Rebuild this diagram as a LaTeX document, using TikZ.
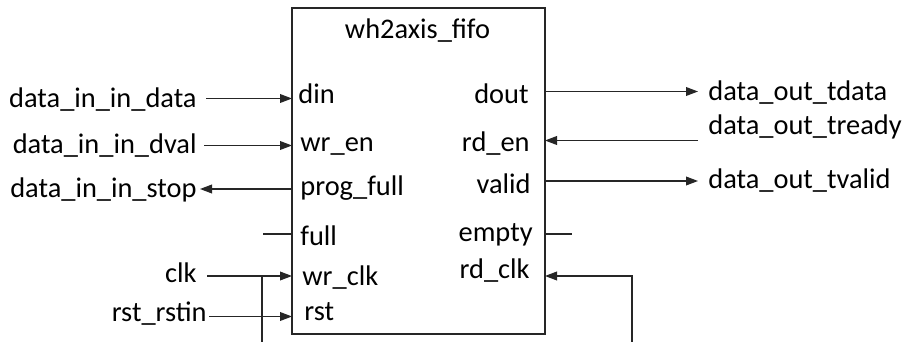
\documentclass[tikz,border=0pt]{standalone}
\usepackage{fontspec}
\setmainfont{Carlito}
\usetikzlibrary{arrows.meta}
\tikzset{
  lbl/.style={inner sep=0pt, font=\fontsize{14.2}{17}\selectfont, text=black},
  wire/.style={line width=0.55pt, draw=black!85},
  arr/.style={wire, -{Triangle[length=6pt,width=4.4pt]}},
  blockbox/.style={draw=black!85, line width=0.6pt, minimum width=126.5pt, minimum height=163pt, inner sep=0pt}
}
\begin{document}
\begin{tikzpicture}[x=0.5pt,y=-0.5pt]
\useasboundingbox (0,0) rectangle (905,342);
% block
\node[blockbox] (box) at (418.5,171) {};
\node[lbl, anchor=base] (title) at (417.5,39) {wh2axis\_fifo};
% inner left port labels
\node[lbl, anchor=base west] (pdin) at (298,104) {din};
\node[lbl, anchor=base west] (pwren) at (300,152) {wr\_en};
\node[lbl, anchor=base west] (pprog) at (300,195) {prog\_full};
\node[lbl, anchor=base west] (pfull) at (300,245) {full};
\node[lbl, anchor=base west] (pwrclk) at (302,285) {wr\_clk};
\node[lbl, anchor=base west] (prst) at (304,320) {rst};
% inner right port labels
\node[lbl, anchor=base east] (pdout) at (529,104) {dout};
\node[lbl, anchor=base east] (prden) at (530,152) {rd\_en};
\node[lbl, anchor=base east] (pvalid) at (531,193) {valid};
\node[lbl, anchor=base east] (pempty) at (533,241) {empty};
\node[lbl, anchor=base east] (prdclk) at (530,278) {rd\_clk};
% outer left labels
\node[lbl, anchor=base east] (sdata) at (197,107.5) {data\_in\_in\_data};
\node[lbl, anchor=base east] (sdval) at (197,154) {data\_in\_in\_dval};
\node[lbl, anchor=base east] (sstop) at (197,198) {data\_in\_in\_stop};
\node[lbl, anchor=base east] (sclk) at (197,282) {clk};
\node[lbl, anchor=base east] (srst) at (207,321) {rst\_rstin};
% outer right labels
\node[lbl, anchor=base west] (otdata) at (708,100.5) {data\_out\_tdata};
\node[lbl, anchor=base west] (otready) at (708,134) {data\_out\_tready};
\node[lbl, anchor=base west] (otvalid) at (708,188) {data\_out\_tvalid};
% pin coordinates on box edges
\coordinate (edin) at (292,98.5);
\coordinate (ewren) at (292,145.5);
\coordinate (eprog) at (292,189);
\coordinate (efull) at (292,234);
\coordinate (ewrclk) at (292,276);
\coordinate (erst) at (292,316.5);
\coordinate (edout) at (545,91.5);
\coordinate (erden) at (545,140.5);
\coordinate (evalid) at (545,181);
\coordinate (eempty) at (545,234);
\coordinate (erdclk) at (545,276);
% free ends
\coordinate (fdata) at (206,98.5);
\coordinate (fdval) at (204,145.5);
\coordinate (fstop) at (200,189);
\coordinate (ffull) at (263,234);
\coordinate (fclk) at (207,276);
\coordinate (frst) at (209,316.5);
\coordinate (clkdn) at (262,276);
\coordinate (clkbot) at (262,342);
\coordinate (ftdata) at (698,91.5);
\coordinate (ftready) at (698,140.5);
\coordinate (ftvalid) at (698,181);
\coordinate (fempty) at (572,234);
\coordinate (rdcorner) at (632,276);
\coordinate (rdbot) at (632,342);
% connectors
\draw[arr] (fdata) -- (edin);
\draw[arr] (fdval) -- (ewren);
\draw[arr] (eprog) -- (fstop);
\draw[wire] (ffull) -- (efull);
\draw[arr] (fclk) -- (ewrclk);
\draw[wire] (clkdn) -- (clkbot);
\draw[arr] (frst) -- (erst);
\draw[arr] (edout) -- (ftdata);
\draw[arr] (ftready) -- (erden);
\draw[arr] (evalid) -- (ftvalid);
\draw[wire] (eempty) -- (fempty);
\draw[arr] (rdbot) -- (rdcorner) -- (erdclk);
\end{tikzpicture}
\end{document}
